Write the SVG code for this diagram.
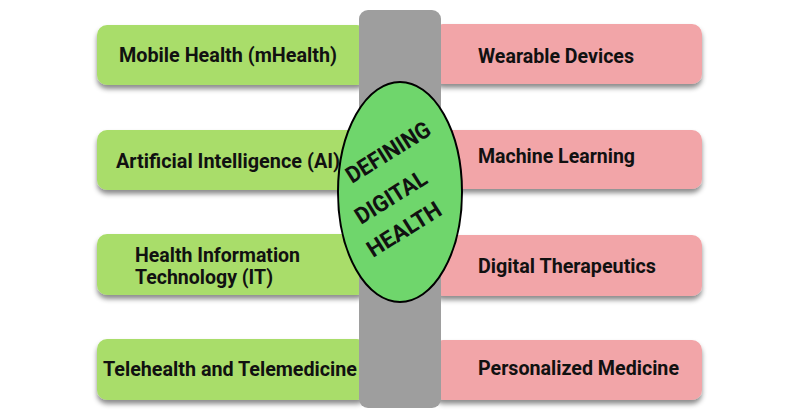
<svg xmlns="http://www.w3.org/2000/svg" width="800" height="419" viewBox="0 0 800 419">
<defs>
<filter id="sh" x="-10%" y="-20%" width="120%" height="160%">
<feDropShadow dx="0" dy="4" stdDeviation="2.5" flood-color="#000" flood-opacity="0.45"/>
</filter>
</defs>
<style>
.g{fill:#A9DD6A}
.p{fill:#F2A5A8}
.t{font-family:Roboto,"Liberation Sans",sans-serif;font-weight:700;font-size:21px;fill:#111}
.s{font-size:20px}
.c{font-size:23px}
</style>
<rect width="800" height="419" fill="#fff"/>
<g id="left-1"><rect class="g" x="97" y="25" width="270" height="60" rx="10" filter="url(#sh)"/><text class="t" x="119" y="62" textLength="218" lengthAdjust="spacingAndGlyphs">Mobile Health (mHealth)</text></g>
<g id="left-2"><rect class="g" x="97" y="130" width="270" height="60" rx="10" filter="url(#sh)"/><text class="t" x="116" y="168" textLength="224" lengthAdjust="spacingAndGlyphs">Artificial Intelligence (AI)</text></g>
<g id="left-3"><rect class="g" x="97" y="234" width="270" height="61" rx="10" filter="url(#sh)"/><text class="t s" x="135" y="262" textLength="165" lengthAdjust="spacingAndGlyphs">Health Information</text><text class="t s" x="135" y="284" textLength="138" lengthAdjust="spacingAndGlyphs">Technology (IT)</text></g>
<g id="left-4"><rect class="g" x="97" y="339" width="270" height="61" rx="10" filter="url(#sh)"/><text class="t" x="103" y="376" textLength="254" lengthAdjust="spacingAndGlyphs">Telehealth and Telemedicine</text></g>
<g id="right-1"><rect class="p" x="433" y="24" width="269" height="60" rx="10" filter="url(#sh)"/><text class="t" x="478" y="63" textLength="156" lengthAdjust="spacingAndGlyphs">Wearable Devices</text></g>
<g id="right-2"><rect class="p" x="433" y="130" width="269" height="59" rx="10" filter="url(#sh)"/><text class="t" x="478" y="163" textLength="157" lengthAdjust="spacingAndGlyphs">Machine Learning</text></g>
<g id="right-3"><rect class="p" x="433" y="235" width="269" height="61" rx="10" filter="url(#sh)"/><text class="t" x="478" y="273" textLength="178" lengthAdjust="spacingAndGlyphs">Digital Therapeutics</text></g>
<g id="right-4"><rect class="p" x="433" y="340" width="269" height="60" rx="10" filter="url(#sh)"/><text class="t" x="478" y="375" textLength="201" lengthAdjust="spacingAndGlyphs">Personalized Medicine</text></g>
<g id="connectors"></g>
<g id="center-bar"><rect x="359" y="10" width="82" height="398" rx="9" fill="#9E9E9E"/></g>
<g id="center">
<ellipse cx="400" cy="192" rx="62" ry="110" fill="#6FD66C" stroke="#000" stroke-width="2"/>
<text class="t c" x="352" y="184" transform="rotate(-32 352 184)" textLength="95" lengthAdjust="spacingAndGlyphs">DEFINING</text>
<text class="t c" x="361" y="225" transform="rotate(-32 361 225)" textLength="80" lengthAdjust="spacingAndGlyphs">DIGITAL</text>
<text class="t c" x="373" y="258" transform="rotate(-32 373 258)" textLength="83" lengthAdjust="spacingAndGlyphs">HEALTH</text>
</g>
</svg>
